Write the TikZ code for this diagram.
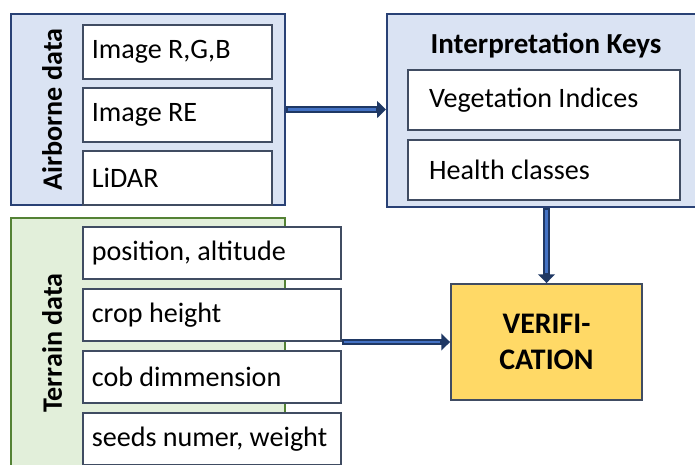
\documentclass[tikz,border=0pt]{standalone}
\usepackage{fontspec}
\setmainfont{Carlito}
\usetikzlibrary{arrows.meta,positioning}
\definecolor{airfill}{RGB}{218,227,243}
\definecolor{airline}{RGB}{41,65,117}
\definecolor{terfill}{RGB}{226,239,218}
\definecolor{terline}{RGB}{84,130,53}
\definecolor{boxline}{RGB}{64,76,98}
\definecolor{verifill}{RGB}{255,217,102}
\definecolor{arrnavy}{RGB}{31,56,100}
\definecolor{arrblue}{RGB}{68,114,196}

\begin{document}
\begin{tikzpicture}[
  x=0.02cm, y=-0.02cm,
  font=\fontsize{16}{19.8}\selectfont,
  group/.style={
    draw=airline,
    fill=airfill,
    line width=1.3pt,
    inner sep=0pt
  },
  terrain/.style={group,draw=terline,fill=terfill},
  item/.style={
    draw=boxline,
    fill=white,
    line width=1.1pt,
    inner xsep=5pt,
    align=flush left
  },
  side/.style={font=\fontsize{16}{19.8}\selectfont\bfseries,rotate=90},
  arr/.style={
    draw=arrnavy,
    line width=3.6pt,
    -{Triangle[length=5pt,width=9.5pt]},
    postaction={draw=arrblue,line width=1.4pt,-,shorten >=5.5pt,shorten <=1pt}
  }
]
\clip (0,0) rectangle (695,464);

% airborne group
\node[group,minimum width=5.48cm,minimum height=3.82cm]
  (air) at (148,109.5) {};
\node[side] (airlbl) at (52,109.5) {Airborne data};
\node[item,text width=3.427cm,minimum height=1.08cm]
  (rgb) at (177.5,52) {Image R,G,B};
\node[item,text width=3.427cm,minimum height=1.08cm,below=0.14cm of rgb]
  (re) {Image RE};
\node[item,text width=3.427cm,minimum height=1.08cm,below=0.14cm of re]
  (lidar) {LiDAR};

% interpretation keys
\node[group,minimum width=6.36cm,minimum height=3.86cm]
  (keys) at (546,110.5) {};
\node[font=\fontsize{16.5}{19.8}\selectfont\bfseries]
  (keystitle) at (546,46) {Interpretation Keys};
\node[item,inner xsep=12pt,text width=4.594cm,minimum height=1.2cm]
  (veg) at (544,100) {Vegetation Indices};
\node[item,inner xsep=12pt,text width=4.594cm,minimum height=1.2cm,below=0.16cm of veg]
  (health) {Health classes};

% terrain group
\node[terrain,minimum width=5.48cm,minimum height=5.24cm]
  (ter) at (148,349) {};
\node[side] (terlbl) at (52,343) {Terrain data};
\node[item,text width=4.807cm,minimum height=1.04cm]
  (pos) at (212,253) {position, altitude};
\node[item,text width=4.807cm,minimum height=1.04cm,below=0.16cm of pos]
  (crop) {crop height};
\node[item,text width=4.807cm,minimum height=1.04cm,below=0.16cm of crop]
  (cob) {cob dimmension};
\node[item,text width=4.807cm,minimum height=1.04cm,below=0.16cm of cob]
  (seeds) {seeds numer, weight};

% verification
\node[draw=boxline,fill=verifill,line width=1.1pt,
  minimum width=3.82cm,minimum height=2.32cm,align=center,
  font=\fontsize{17}{20.5}\selectfont\bfseries]
  (verif) at (546.5,342) {VERIFI-\\CATION};

\draw[arr] (air.east) -- (keys.west |- air.east);
\draw[arr] (verif.north |- keys.south) -- (verif.north);
\draw[arr] (crop.east |- verif.west) -- (verif.west);
\end{tikzpicture}
\end{document}
